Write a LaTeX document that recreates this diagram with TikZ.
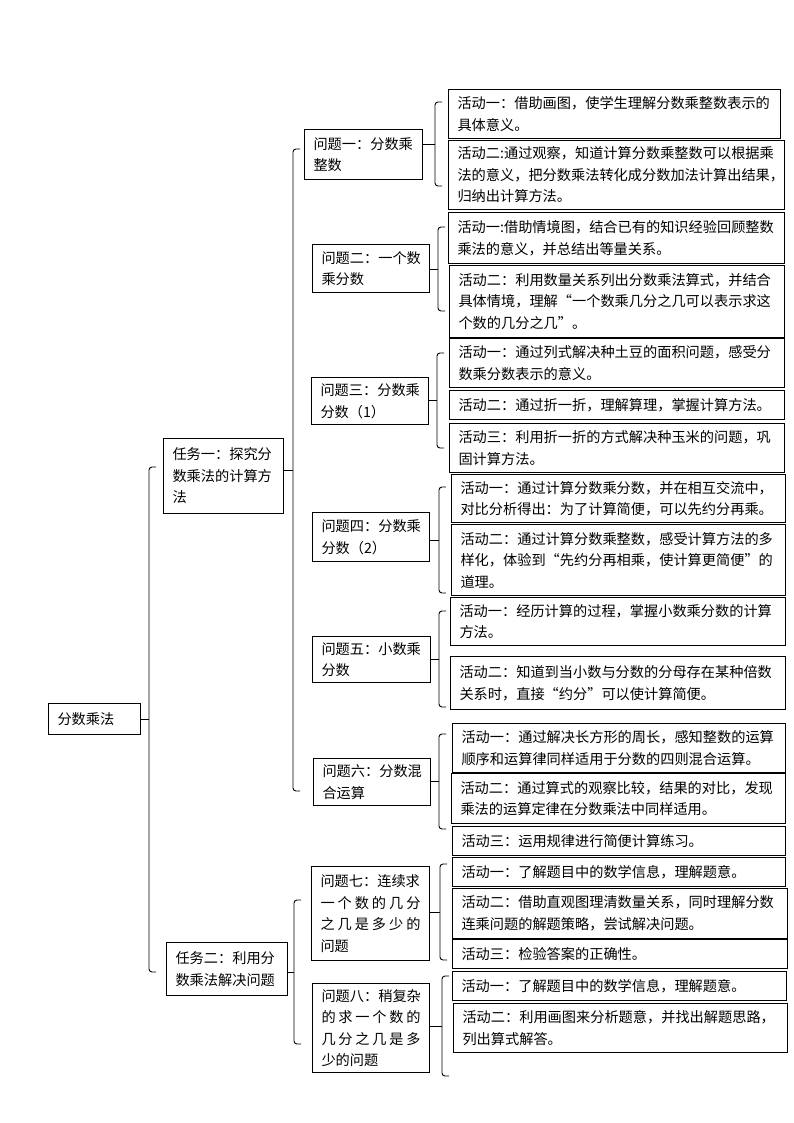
\documentclass[tikz,border=0pt]{standalone}
\usepackage{fontspec}
\setmainfont{Noto Sans CJK SC}
\newfontfamily\fwq[CharacterWidth=Full]{Noto Sans CJK SC}
\newcommand\qo{{\fwq “}}
\newcommand\qc{{\fwq ”}}
\tikzset{
  box/.style={draw, line width=1pt, anchor=north west, align=left,
    inner xsep=9pt, inner ysep=0pt, font=\fontsize{14.2}{21.5}\selectfont},
  sz/.code 2 args={\pgfmathsetmacro\myTW{#1-18}%
    \edef\myTmp{\noexpand\tikzset{minimum width=#1pt, minimum height=#2pt, text width=\myTW pt}}\myTmp},
  brace/.style={line width=0.9pt, rounded corners=3pt},
}
\newcommand\sprd[1]{\makebox[\linewidth]{#1}}
\newcommand\mybrace[5]{%
  \coordinate (#1t) at (#3+7,#4);
  \coordinate (#1b) at (#3+7,#5);
  \coordinate (#1m) at (#3,{(#4+#5)/2});
  \draw[brace] (#1t) -- (#3,#4) -- (#1m) -- (#3,#5) -- (#1b);
  \draw[brace] (#1m) -- (#2.east |- #1m);
}
\begin{document}
\begin{tikzpicture}[x=1pt, y=-1pt]
\fill[white] (0,0) rectangle (794,1123);
\useasboundingbox (0,0) rectangle (794,1123);

% root and tasks
\node[box, sz={92}{31}] (root) at (48,703) {分数乘法};
\node[box, sz={120}{75}] (t1) at (163,438) {任务一：探究分\\数乘法的计算方\\法};
\node[box, sz={121}{53}] (t2) at (166,942) {任务二：利用分\\数乘法解决问题};

% problems
\node[box, sz={118}{50}] (q1) at (304,129) {问题一：分数乘\\整数};
\node[box, sz={117}{48}] (q2) at (312,244) {问题二：一个数\\乘分数};
\node[box, sz={117}{47}] (q3) at (311,377) {问题三：分数乘\\分数（1）};
\node[box, sz={117}{49}] (q4) at (312,512) {问题四：分数乘\\分数（2）};
\node[box, sz={118}{46}] (q5) at (312,636) {问题五：小数乘\\分数};
\node[box, sz={117}{47}] (q6) at (313,758) {问题六：分数混\\合运算};
\node[box, sz={118}{94}] (q7) at (311,866) {问题七：连续求\\\sprd{一\hfill 个\hfill 数\hfill 的\hfill 几\hfill 分}\\\sprd{之\hfill 几\hfill 是\hfill 多\hfill 少\hfill 的}\\问题};
\node[box, sz={117}{89}] (q8) at (312,983) {问题八：稍复杂\\\sprd{的\hfill 求\hfill 一\hfill 个\hfill 数\hfill 的}\\\sprd{几\hfill 分\hfill 之\hfill 几\hfill 是\hfill 多}\\少的问题};

% activities
\node[box, sz={332}{49}] (q1a1) at (448,89) {活动一：借助画图，使学生理解分数乘整数表示的\\具体意义。};
\node[box, sz={336}{69}] (q1a2) at (448,140) {活动二:通过观察，知道计算分数乘整数可以根据乘\\法的意义，把分数乘法转化成分数加法计算出结果，\\归纳出计算方法。};
\node[box, sz={336}{51}] (q2a1) at (448,212) {活动一:借助情境图，结合已有的知识经验回顾整数\\乘法的意义，并总结出等量关系。};
\node[box, sz={335}{72}] (q2a2) at (449,265) {活动二：利用数量关系列出分数乘法算式，并结合\\具体情境，理解\qo 一个数乘几分之几可以表示求这\\个数的几分之几\qc 。};
\node[box, sz={335}{49}] (q3a1) at (449,338) {活动一：通过列式解决种土豆的面积问题，感受分\\数乘分数表示的意义。};
\node[box, sz={335}{29}] (q3a2) at (449,390) {活动二：通过折一折，理解算理，掌握计算方法。};
\node[box, sz={335}{49}] (q3a3) at (449,423) {活动三：利用折一折的方式解决种玉米的问题，巩\\固计算方法。};
\node[box, sz={334}{48}] (q4a1) at (451,474) {活动一：通过计算分数乘分数，并在相互交流中，\\对比分析得出：为了计算简便，可以先约分再乘。};
\node[box, sz={334}{71}] (q4a2) at (451,524) {活动二：通过计算分数乘整数，感受计算方法的多\\样化，体验到\qo 先约分再相乘，使计算更简便\qc 的\\道理。};
\node[box, sz={335}{48}] (q5a1) at (450,597) {活动一：经历计算的过程，掌握小数乘分数的计算\\方法。};
\node[box, sz={335}{53}] (q5a2) at (450,656) {活动二：知道到当小数与分数的分母存在某种倍数\\关系时，直接\qo 约分\qc 可以使计算简便。};
\node[box, sz={333}{49}] (q6a1) at (452,723) {活动一：通过解决长方形的周长，感知整数的运算\\顺序和运算律同样适用于分数的四则混合运算。};
\node[box, sz={334}{50}] (q6a2) at (451,773) {活动二：通过算式的观察比较，结果的对比，发现\\乘法的运算定律在分数乘法中同样适用。};
\node[box, sz={333}{29}] (q6a3) at (452,826) {活动三：运用规律进行简便计算练习。};
\node[box, sz={333}{29}] (q7a1) at (452,857) {活动一：了解题目中的数学信息，理解题意。};
\node[box, sz={335}{50}] (q7a2) at (452,888) {活动二：借助直观图理清数量关系，同时理解分数\\连乘问题的解题策略，尝试解决问题。};
\node[box, sz={335}{29}] (q7a3) at (452,939) {活动三：检验答案的正确性。};
\node[box, sz={334}{29}] (q8a1) at (452,971) {活动一：了解题目中的数学信息，理解题意。};
\node[box, sz={334}{49}] (q8a2) at (453,1003) {活动二：利用画图来分析题意，并找出解题思路，\\列出算式解答。};

% braces
\mybrace{br0}{root}{149}{467}{972}
\mybrace{br1}{t1}{293}{149}{791}
\mybrace{br2}{t2}{294}{900}{1044}
\mybrace{bq1}{q1}{435}{102}{186}
\mybrace{bq2}{q2}{438}{227}{311}
\mybrace{bq3}{q3}{437}{353}{448}
\mybrace{bq4}{q4}{439}{487}{593}
\mybrace{bq5}{q5}{439}{611}{707}
\mybrace{bq6}{q6}{439}{734}{829}
\mybrace{bq7}{q7}{440}{864}{960}
\mybrace{bq8}{q8}{442}{976}{1076}
\end{tikzpicture}
\end{document}
